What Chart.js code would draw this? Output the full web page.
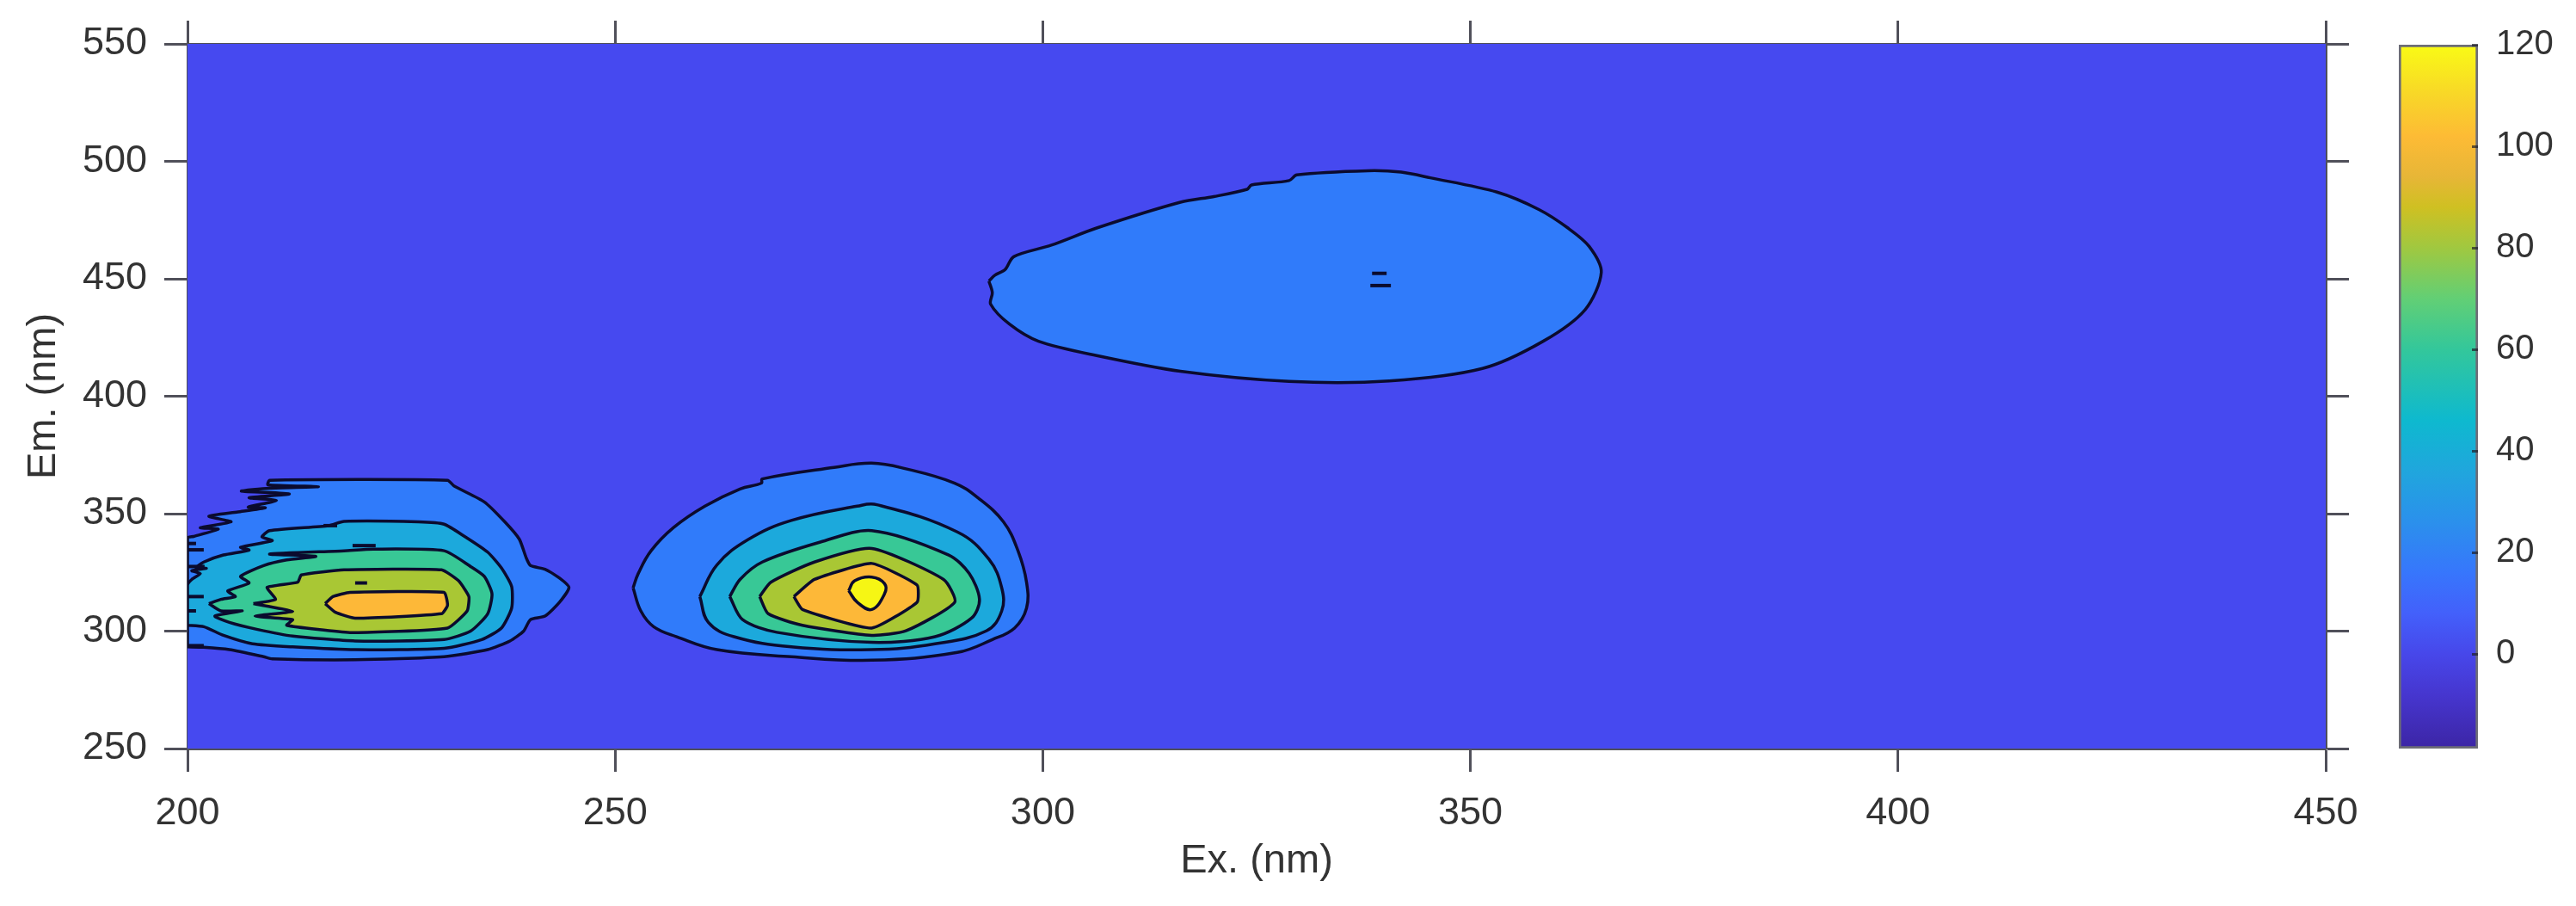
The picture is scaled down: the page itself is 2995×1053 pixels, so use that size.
<!DOCTYPE html>
<html>
<head>
<meta charset="utf-8">
<title>EEM contour</title>
<script src="https://cdn.jsdelivr.net/npm/chart.js@4/dist/chart.umd.js"></script>
<style>
  html, body { margin: 0; padding: 0; background: #fff; }
  canvas { position: absolute; top: 0; filter: blur(0.7px); }
  #contour { left: 0; }
  #colorbar { left: 2700px; }
</style>
</head>
<body>
<canvas id="contour" width="2995" height="1053"></canvas>
<canvas id="colorbar" width="295" height="1053"></canvas>
<script>
const xTicks = [200, 250, 300, 350, 400, 450];
const yTicks = [250, 300, 350, 400, 450, 500, 550];
const cbarTicks = [0, 20, 40, 60, 80, 100, 120];
const cbarRange = [-18.6, 120];
const cbarStops = [-18.6, -8, 0, 8, 16, 26, 36, 46, 60, 70, 80, 88, 94, 102, 110, 120];
const cbarColors = ["#3c25a5", "#4636cf", "#4747ea", "#4360fb", "#3776fc", "#2b90ec", "#20a6dd", "#0eb9cf",
  "#33c79b", "#62cf75", "#a0c840", "#cfc022", "#e7b637", "#fdbb35", "#f8d628", "#f9fb15"];

// level colours, lowest band first
const levelColors = ["#4649f0", "#307bfa", "#1ca9dc", "#38c896", "#a9c734", "#fdb838", "#f6f614"];

const background = [[200, 250], [450, 250], [450, 550], [200, 550]];

// peak near Ex 225
const peakA1 = [[200,293.3],[201.9,293.1],[204.9,292.1],[208.9,289.1],[209.9,288.2],[219.6,287.8],[230,289.1],[235.1,292.1],
  [237.7,295.8],[239.3,300],[240.1,304.9],[241.8,306.4],[243.5,312.3],[244.6,318.6],[243.5,322.6],[241.8,326.3],[240.1,327.9],
  [239.6,331.2],[238.8,339.1],[237.1,346.5],[234.7,355],[231.2,361.7],[230.4,364.2],[209.6,364.2],[209.4,362.3],[215.3,361.5],
  [209.6,360.8],[206.3,359.6],[211.9,358.4],[207.2,356.8],[210.4,355.6],[207.1,352.8],[209.1,352.5],[205.9,350.7],[202.5,348.9],
  [205.1,346.5],[201.5,344],[203.6,343.4],[200.7,340.3],[200,339.7]];
const peakA2 = [[200,302.5],[201.9,301.9],[204.2,298.2],[207.6,294.6],[212.3,293.3],[219.6,292.1],[230,292.7],[234.4,296.4],
  [236.7,301.3],[237.9,309.8],[237.9,319],[236.7,326.9],[235.1,333.6],[232.4,340.3],[230,345.5],[227,346.5],[218.3,346.7],
  [216.5,344.9],[209.6,342.8],[208.7,340.1],[209.9,338.5],[206.2,335.7],[207.2,334.5],[204.2,332.4],[201.9,329.4],[201,326.9],
  [202.2,326.7],[200.5,325.7],[201.5,324.5],[200.5,322],[200,319.6]];
const peakA3 = [[202.5,311.7],[203.9,308.6],[206.4,308.6],[203.2,306.4],[204.9,303.7],[208.2,300.7],[212.3,297.9],[219.6,295.8],
  [230,296.4],[233.1,300],[235.1,307.4],[235.6,315.9],[234.7,323.3],[233.1,327.5],[230,334.2],[221.7,334.9],[218.3,334.2],
  [209.6,332.8],[215,331.8],[211.6,330.3],[208.9,327.9],[206.2,323.3],[207.2,320.5],[204.7,317.1],[205.6,314.7],[203.9,313.5]];
const peakA4 = [[207.7,311.7],[212.3,308.4],[207.9,306.4],[212.3,304.9],[211.6,302.5],[219,299.4],[230.4,301.3],[232.7,308.6],
  [232.9,314.7],[231.7,321.4],[229.7,326.1],[218.3,326.1],[213.3,323.9],[212.9,320.8],[209.3,318.6],[210.3,313.5]];
const peakA5 = [[216.1,311.7],[217.3,308],[219.6,305.5],[229.7,307.4],[230.4,311],[230,316.5],[219,316.5],[217,314.7]];

// peak near Ex 280
const peakB1 = [[252.1,318.4],[253,308.6],[254.5,301.9],[257.2,297.6],[261.9,292.1],[270.6,289.1],[280,287.6],[290,290.9],
  [294.1,296.4],[296.7,301.3],[298.1,309.8],[298.1,320.8],[297.1,334.2],[295.4,346.5],[292.4,356.8],[289.7,363],[284,369.1],
  [280,371.5],[275.6,369.7],[267.2,364.8],[267.1,363],[264.6,360.5],[260.5,353.2],[256.8,344],[254.2,334.2],[252.7,324.5]];
const peakB2 = [[259.9,314.7],[260.9,303.7],[263.9,297.6],[270.6,293.3],[280,292.1],[287.4,294.6],[293.4,300.1],[295.2,308.6],
  [295.2,318.4],[293.7,330.6],[290,342.2],[280.6,353.8],[278.3,353.2],[270.6,347.1],[265.6,339.1],[261.9,328.2]];
const peakB3 = [[263.4,314.7],[264.9,304.9],[268.9,299.5],[280,295.2],[287.4,297.6],[291.7,305.6],[292.6,313.5],[291.4,324.5],
  [289,332.4],[280,342.8],[274,337.9],[267.2,329.4],[264.6,322]];
const peakB4 = [[266.9,314.7],[267.9,307.4],[271.9,302.5],[280,298.2],[284,300.1],[289.7,312.3],[288.4,322],[280,335.2],
  [273.3,329.4],[268.2,320.8]];
const peakB5 = [[270.9,314.7],[271.9,309.2],[280,301.3],[285.3,312.3],[285.3,319.6],[280,328.8],[273.3,322]];
const peakB6 = [[277.3,317.2],[278.3,312.3],[280,309.2],[281.5,315.9],[281.5,320.2],[280,323],[278,321.4]];

// peak near Ex 340
const peakC1 = [[293.7,449],[294.1,444.1],[293.9,439.2],[296.1,430.7],[299.5,423.4],[306.3,417.3],[316.1,410.6],[328.8,406.3],
  [340.5,406.5],[351.4,411.8],[358.5,423.4],[363.4,436.8],[365.3,452.7],[363.9,463.7],[361.4,471.6],[358,479.5],[353.1,486.9],
  [345.3,493],[341.9,495.4],[338,496],[329.7,494.2],[328.8,491.8],[324.4,489.9],[323.9,488.1],[320,485],[316.1,482.6],
  [306.3,471.6],[301,464.3],[296.6,459.4],[295.6,453.9],[294.4,451.5]];

// tiny closed contours that show up as dashes
const dashes = [
  [[338.5,452.3],[340.2,452.3]], [[338.3,447.1],[340.7,447.1]],
  [[219.6,320.5],[221,320.5]], [[219.3,336.4],[222,336.4]], [[215.9,344.9],[217.5,344.9]],
  [[200,334.6],[201.9,334.6]], [[200,337.3],[201,337.3]], [[200,314.7],[201.9,314.7]], [[200,308.6],[201,308.6]],
  [[200,327.5],[202,327.5]], [[200,293.8],[201.9,293.8]],
];

// polygon, level, smoothing
const bands = [
  [peakA1, 1, 0.2], [peakB1, 1, 0.4], [peakC1, 1, 0.3],
  [peakA2, 2, 0.2], [peakB2, 2, 0.4],
  [peakA3, 3, 0.2], [peakB3, 3, 0.3],
  [peakA4, 4, 0.15], [peakB4, 4, 0.2],
  [peakA5, 5, 0.15], [peakB5, 5, 0.15],
  [peakB6, 6, 0.4],
];

const lineColor = "#0b0b2e";
const axisColor = "#50505a";
const textColor = "#333";
const fontFamily = "'Liberation Sans', Arial, sans-serif";

function toPoints(list) {
  return list.map(function (p) { return { x: p[0], y: p[1] }; });
}

const datasets = [];
datasets.push({
  data: toPoints(background),
  showLine: true,
  fill: "shape",
  backgroundColor: levelColors[0],
  borderWidth: 0,
  pointRadius: 0,
  order: 100,
});
bands.forEach(function (b, i) {
  const pts = toPoints(b[0]);
  pts.push(pts[0]);
  datasets.push({
    data: pts,
    showLine: true,
    fill: "shape",
    backgroundColor: levelColors[b[1]],
    borderColor: lineColor,
    borderWidth: 3.5,
    tension: b[2],
    pointRadius: 0,
    order: 50 - i,
  });
});
dashes.forEach(function (d) {
  datasets.push({
    data: toPoints(d),
    showLine: true,
    fill: false,
    borderColor: lineColor,
    borderWidth: 4,
    pointRadius: 0,
    order: 1,
  });
});

function fixedSize(prop, size) {
  return function (scale) { scale[prop] = size; };
}

function axis(position, ticks, size, showLabels) {
  const horizontal = position === "bottom" || position === "top";
  return {
    type: "linear",
    position: position,
    display: true,
    min: ticks[0],
    max: ticks[ticks.length - 1],
    afterBuildTicks: function (scale) {
      scale.ticks = ticks.map(function (v) { return { value: v }; });
    },
    afterFit: fixedSize(horizontal ? "height" : "width", size),
    border: { display: true, color: axisColor, width: 3 },
    grid: { drawOnChartArea: false, drawTicks: true, tickLength: 27, tickWidth: 3, tickColor: axisColor },
    ticks: {
      display: showLabels,
      autoSkip: false,
      maxRotation: 0,
      padding: horizontal ? 22 : 20,
      color: textColor,
      font: { family: fontFamily, size: 45 },
    },
  };
}

const xAxis = axis("bottom", xTicks, 183, true);
xAxis.title = { display: true, text: "Ex. (nm)", color: textColor, padding: { top: 8, bottom: 24 }, font: { family: fontFamily, size: 47 } };
const yAxis = axis("left", yTicks, 218, true);
yAxis.title = { display: true, text: "Em. (nm)", color: textColor, padding: { top: 23, bottom: 0 }, font: { family: fontFamily, size: 47 } };

new Chart(document.getElementById("contour"), {
  type: "scatter",
  data: { datasets: datasets },
  options: {
    responsive: false,
    animation: false,
    layout: { padding: 0 },
    plugins: { legend: { display: false }, tooltip: { enabled: false } },
    scales: {
      x: xAxis,
      y: yAxis,
      xTop: axis("top", xTicks, 51, false),
      yRight: axis("right", yTicks, 291, false),
    },
  },
});

new Chart(document.getElementById("colorbar"), {
  type: "bar",
  data: {
    labels: [""],
    datasets: [{
      data: [cbarRange],
      barPercentage: 1,
      categoryPercentage: 1,
      borderColor: "rgba(45,45,60,0.7)",
      borderWidth: 3,
      borderSkipped: false,
      backgroundColor: function (context) {
        const chart = context.chart;
        if (!chart.chartArea) return cbarColors[0];
        const y = chart.scales.y;
        const grad = chart.ctx.createLinearGradient(0, y.getPixelForValue(cbarRange[0]), 0, y.getPixelForValue(cbarRange[1]));
        cbarStops.forEach(function (v, i) {
          grad.addColorStop((v - cbarRange[0]) / (cbarRange[1] - cbarRange[0]), cbarColors[i]);
        });
        return grad;
      },
    }],
  },
  options: {
    responsive: false,
    animation: false,
    layout: { padding: { left: 89, top: 51, bottom: 183, right: 0 } },
    plugins: { legend: { display: false }, tooltip: { enabled: false } },
    scales: {
      x: { display: false },
      y: {
        position: "right",
        min: cbarRange[0],
        max: cbarRange[1],
        afterBuildTicks: function (scale) {
          scale.ticks = cbarTicks.map(function (v) { return { value: v }; });
        },
        afterFit: fixedSize("width", 114),
        border: { display: false },
        grid: { drawOnChartArea: false, drawTicks: true, tickLength: -7, tickWidth: 3, tickColor: "rgba(30,30,40,0.7)", z: 2 },
        ticks: { autoSkip: false, padding: 28, color: textColor, font: { family: fontFamily, size: 40 } },
      },
    },
  },
});
</script>
</body>
</html>
